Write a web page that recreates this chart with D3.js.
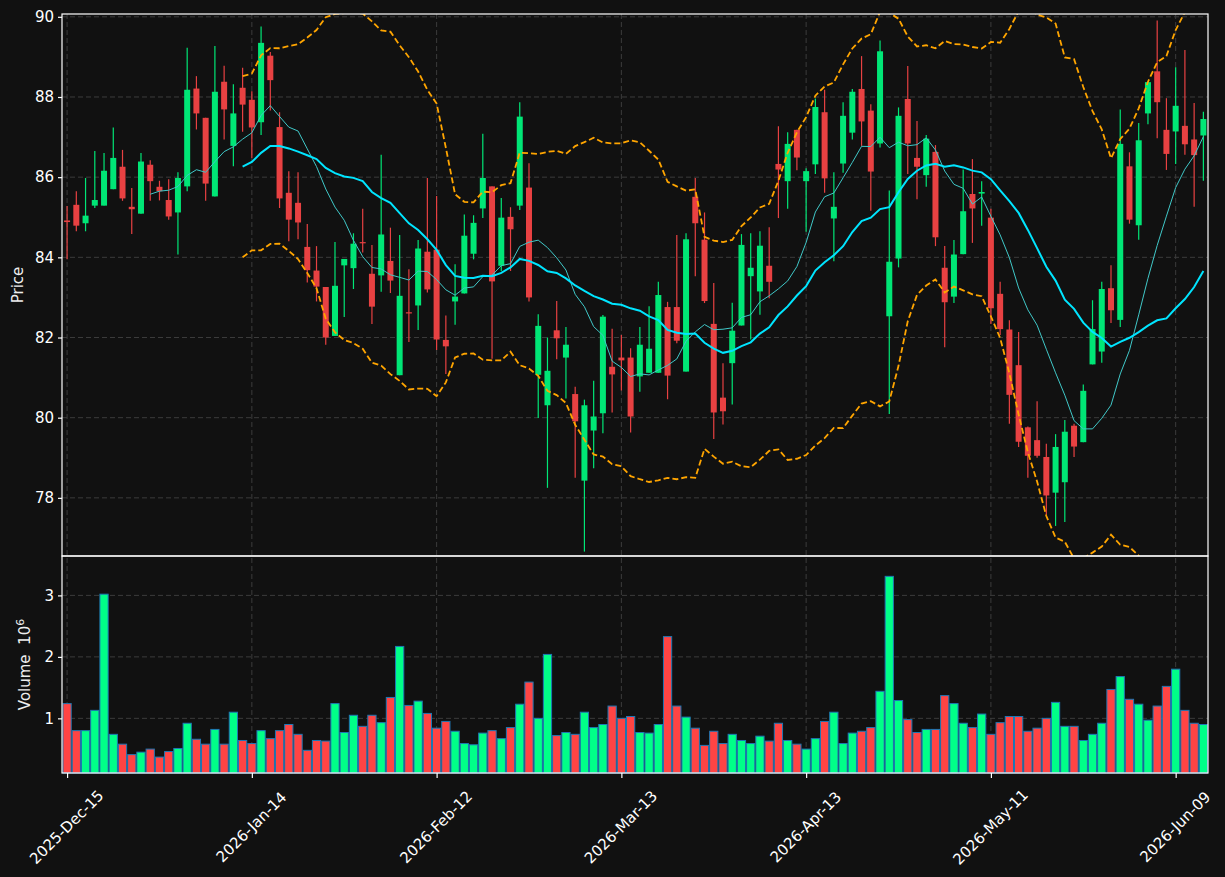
<!DOCTYPE html>
<html>
<head>
<meta charset="utf-8">
<script src="https://cdn.jsdelivr.net/npm/d3@7/dist/d3.min.js"></script>
<style>
body {
  margin: 0;
  background-color: #111111;
}
svg {
  display: block;
  font-family: "DejaVu Sans", sans-serif;
}
</style>
</head>
<body>
<svg id="chart"></svg>
<script>
// daily OHLC
var opens = [84.92,85.31,84.85,85.29,85.29,85.70,86.26,85.26,85.09,86.31,
  85.76,85.43,85.12,85.77,88.21,87.48,85.52,88.38,86.78,88.23,
  87.93,87.37,89.03,87.25,85.61,85.36,84.26,83.67,83.26,82.04,
  83.80,83.73,84.38,83.59,83.55,83.91,81.06,82.63,82.80,84.14,
  84.19,81.94,82.90,83.10,84.09,85.22,85.77,83.79,85.01,85.29,
  85.74,81.07,80.31,82.18,81.50,80.59,78.43,79.68,80.11,81.27,
  81.50,81.50,81.03,81.12,81.12,82.76,82.76,81.15,85.51,84.44,
  82.34,80.50,81.36,82.30,83.53,83.15,83.79,86.33,85.90,87.18,
  85.90,86.32,87.62,84.97,86.34,87.11,88.20,87.66,86.84,82.53,
  83.97,87.95,86.48,86.05,86.63,83.74,83.02,84.08,85.58,85.59,
  84.99,83.09,82.20,81.31,79.76,79.44,79.02,78.13,78.39,79.80,
  79.39,81.33,81.65,83.23,82.44,86.27,84.80,87.59,88.64,87.18,
  87.14,87.28,86.94,87.04];
var highs = [85.28,85.65,85.98,86.65,86.60,87.24,86.68,85.73,86.60,86.42,
  85.91,85.95,86.12,89.23,88.52,87.48,89.27,88.78,88.32,88.73,
  88.14,89.76,89.12,87.62,86.15,86.12,84.83,84.28,83.26,84.38,
  83.96,84.60,85.21,84.31,86.56,84.74,84.56,83.70,84.43,85.98,
  85.53,82.55,83.83,85.07,85.05,87.08,85.77,85.48,85.25,87.87,
  86.35,82.58,82.00,82.91,82.26,80.77,80.45,80.92,82.56,82.22,
  82.06,81.73,82.26,82.78,83.39,82.89,84.56,84.60,85.98,85.12,
  83.36,81.36,82.87,84.58,84.60,84.65,84.75,87.27,87.12,87.18,
  86.22,87.96,88.18,86.12,87.87,88.20,89.02,87.82,89.41,85.67,
  87.74,88.77,87.40,87.05,86.80,84.28,84.43,86.19,86.45,85.90,
  85.21,83.39,82.43,82.14,79.78,80.41,79.35,79.59,79.94,79.85,
  80.83,82.93,83.39,83.80,87.69,86.62,87.35,88.37,89.91,87.97,
  88.74,89.17,87.85,87.63];
var lows = [83.95,84.65,84.65,85.23,85.29,85.70,85.41,84.58,85.09,85.41,
  85.42,84.94,84.07,85.65,87.19,85.41,85.52,86.94,86.27,87.13,
  86.48,87.05,87.66,85.23,84.40,84.45,83.37,82.90,81.82,82.04,
  82.51,83.21,84.12,82.34,83.14,83.11,81.06,81.89,82.19,83.12,
  81.69,81.09,82.32,83.10,83.95,84.98,81.47,83.66,83.66,85.18,
  82.90,79.99,78.25,81.46,80.48,78.50,76.66,78.74,79.61,80.13,
  80.68,79.63,80.65,81.12,81.12,80.46,81.86,81.15,83.53,82.86,
  79.47,79.83,80.33,82.30,81.95,82.57,82.98,84.98,85.21,86.17,
  84.64,86.08,85.61,83.90,86.11,86.94,86.78,85.16,86.74,80.09,
  83.75,86.08,85.45,85.76,84.28,81.76,82.86,84.08,84.36,84.79,
  82.34,82.06,79.85,79.27,78.50,79.00,77.58,77.30,77.40,79.02,
  79.39,81.33,81.37,82.36,82.26,84.84,84.44,87.32,86.97,86.18,
  86.33,86.56,85.26,85.91];
var closes = [84.88,84.79,85.04,85.43,86.16,86.48,85.47,85.20,86.39,85.90,
  85.65,85.02,85.98,88.18,87.59,85.84,88.13,87.69,87.59,87.81,
  87.24,89.35,88.42,85.47,84.94,84.87,83.68,83.27,82.00,83.29,
  83.96,84.34,84.35,82.77,84.57,83.42,83.04,82.60,84.22,83.20,
  81.95,81.78,83.02,84.54,84.86,85.98,83.40,84.99,84.70,87.51,
  83.00,82.29,81.17,81.98,81.82,79.91,80.31,80.03,82.52,81.08,
  81.43,80.03,81.82,81.72,83.06,81.05,81.92,84.45,84.85,82.91,
  80.13,80.16,82.17,84.31,83.74,84.29,83.39,86.19,86.83,86.49,
  86.15,87.75,85.97,85.26,87.53,88.13,87.39,86.14,89.14,83.89,
  87.53,86.84,86.26,86.96,84.50,82.88,84.07,85.15,85.22,85.63,
  82.73,82.21,80.57,79.40,79.05,79.05,78.06,79.27,79.65,79.28,
  80.67,82.21,83.21,82.68,86.83,84.94,86.92,88.37,87.87,86.58,
  87.78,86.82,86.55,87.45];
// volume in millions
var volumes = [1.24,0.80,0.80,1.13,3.02,0.74,0.58,0.41,0.45,0.50,
  0.37,0.46,0.51,0.92,0.66,0.58,0.82,0.58,1.10,0.64,
  0.59,0.80,0.67,0.80,0.90,0.74,0.48,0.64,0.63,1.24,
  0.77,1.05,0.87,1.05,0.93,1.34,2.17,1.21,1.28,1.08,
  0.84,0.95,0.79,0.59,0.57,0.76,0.80,0.67,0.85,1.23,
  1.59,1.00,2.04,0.72,0.77,0.74,1.10,0.85,0.90,1.20,
  1.00,1.03,0.77,0.76,0.90,2.33,1.20,1.02,0.84,0.56,
  0.79,0.59,0.74,0.64,0.59,0.71,0.63,0.92,0.64,0.58,
  0.50,0.67,0.95,1.10,0.59,0.76,0.79,0.85,1.44,3.31,
  1.29,0.98,0.77,0.82,0.82,1.37,1.24,0.92,0.85,1.07,
  0.74,0.93,1.03,1.03,0.79,0.84,1.00,1.26,0.87,0.87,
  0.64,0.74,0.92,1.47,1.68,1.31,1.23,0.97,1.20,1.52,
  1.80,1.13,0.92,0.90];

var tickIdx = [0, 20, 40, 60, 80, 100, 120];
var tickLabels = ["2025-Dec-15", "2026-Jan-14", "2026-Feb-12", "2026-Mar-13",
                  "2026-Apr-13", "2026-May-11", "2026-Jun-09"];
var priceTicks = [78, 80, 82, 84, 86, 88, 90];
var volTicks = [1, 2, 3];
var priceRange = [76.55, 90.07];

const width = 1225;
const height = 877;
var left = 62, right = 1208, mainTop = 14, mainBot = 556, volBot = 773;
var upColor = "#00e676", downColor = "#e84142";
var upVol = "#00ff88", downVol = "#ff4444";
var gridColor = "#3c3c3c";

var svg = d3.select("#chart").attr("width", width).attr("height", height);
svg.append("rect").attr("width", width).attr("height", height).attr("fill", "#111111");

var n = closes.length;
var x = d3.scaleLinear().domain([-0.55, n - 0.5]).range([left, right]);
var y = d3.scaleLinear().domain(priceRange).range([mainBot, mainTop]);
var yv = d3.scaleLinear()
           .domain([0.3 * d3.min(volumes), 1.1 * d3.max(volumes)])
           .range([volBot, mainBot]);

// moving averages and bollinger bands from the closes
function rolling(arr, p, fn) {
  return arr.map((d, i) => i < p - 1 ? null : fn(arr.slice(i - p + 1, i + 1)));
}
var sma10 = rolling(closes, 10, d3.mean);
var sma20 = rolling(closes, 20, d3.mean);
var sd20 = rolling(closes, 20, (a) => {
  var m = d3.mean(a);
  return Math.sqrt(d3.mean(a, (v) => (v - m) * (v - m)));
});
var bbUp = sma20.map((m, i) => m == null ? null : m + 2 * sd20[i]);
var bbLo = sma20.map((m, i) => m == null ? null : m - 2 * sd20[i]);

var defs = svg.append("defs");
defs.append("clipPath").attr("id", "clipMain").append("rect")
    .attr("x", left).attr("y", mainTop).attr("width", right - left).attr("height", mainBot - mainTop);

// grid
var grid = svg.append("g").attr("stroke", gridColor).attr("stroke-width", 1)
              .attr("stroke-dasharray", "5,3");
grid.selectAll(".vg").data(tickIdx).enter().append("line")
    .attr("x1", (d) => x(d)).attr("x2", (d) => x(d))
    .attr("y1", mainTop).attr("y2", volBot);
grid.selectAll(".hg").data(priceTicks).enter().append("line")
    .attr("x1", left).attr("x2", right)
    .attr("y1", (d) => y(d)).attr("y2", (d) => y(d));
grid.selectAll(".hv").data(volTicks).enter().append("line")
    .attr("x1", left).attr("x2", right)
    .attr("y1", (d) => yv(d)).attr("y2", (d) => yv(d));

// volume bars
var idx = d3.range(n);
var step = x(1) - x(0);
svg.append("g").selectAll("rect").data(idx).enter().append("rect")
   .attr("x", (i) => x(i) - step / 2 + 0.5)
   .attr("width", step - 1)
   .attr("y", (i) => yv(volumes[i]))
   .attr("height", (i) => volBot - yv(volumes[i]))
   .attr("fill", (i) => closes[i] >= opens[i] ? upVol : downVol)
   .attr("stroke", "#1f77b4")
   .attr("stroke-width", 1);

// candles
var cg = svg.append("g").attr("clip-path", "url(#clipMain)");
cg.selectAll(".wick").data(idx).enter().append("line")
  .attr("x1", (i) => x(i)).attr("x2", (i) => x(i))
  .attr("y1", (i) => y(highs[i])).attr("y2", (i) => y(lows[i]))
  .attr("stroke", (i) => closes[i] >= opens[i] ? upColor : downColor)
  .attr("stroke-width", 1.2);
cg.selectAll(".body").data(idx).enter().append("rect")
  .attr("x", (i) => x(i) - 3)
  .attr("width", 6)
  .attr("y", (i) => y(Math.max(opens[i], closes[i])))
  .attr("height", (i) => Math.max(1, Math.abs(y(opens[i]) - y(closes[i]))))
  .attr("fill", (i) => closes[i] >= opens[i] ? upColor : downColor);

// overlay lines
function lineOf(arr) {
  return d3.line().defined((d) => d != null)
           .x((d, i) => x(i)).y((d) => y(d))(arr);
}
var lg = svg.append("g").attr("clip-path", "url(#clipMain)").attr("fill", "none");
lg.append("path").attr("d", lineOf(sma10)).attr("stroke", "#40c8c8").attr("stroke-width", 1);
lg.append("path").attr("d", lineOf(sma20)).attr("stroke", "#00e5ff").attr("stroke-width", 2);
lg.append("path").attr("d", lineOf(bbUp)).attr("stroke", "#ffa500").attr("stroke-width", 1.8)
  .attr("stroke-dasharray", "6,3");
lg.append("path").attr("d", lineOf(bbLo)).attr("stroke", "#ffa500").attr("stroke-width", 1.8)
  .attr("stroke-dasharray", "6,3");

// axes
function styleAxis(g) {
  g.select(".domain").remove();
  g.selectAll(".tick line").attr("stroke", "white").attr("stroke-width", 1.2);
  g.selectAll(".tick text").attr("fill", "white").style("font-size", "15px")
   .style("font-family", "DejaVu Sans, sans-serif");
}
svg.append("g").attr("transform", "translate(" + left + ",0)")
   .call(d3.axisLeft(y).tickValues(priceTicks).tickSize(4).tickPadding(4))
   .call(styleAxis);
svg.append("g").attr("transform", "translate(" + left + ",0)")
   .call(d3.axisLeft(yv).tickValues(volTicks).tickSize(4).tickPadding(4)
           .tickFormat(d3.format("d")))
   .call(styleAxis);
var xa = svg.append("g").attr("transform", "translate(0," + volBot + ")")
   .call(d3.axisBottom(x).tickValues(tickIdx).tickSize(5)
           .tickFormat((d, i) => tickLabels[i]))
   .call(styleAxis);
xa.selectAll(".tick text")
  .attr("y", 0).attr("dy", "0.35em")
  .attr("text-anchor", "middle")
  .attr("transform", "translate(-1,54) rotate(-45)");

// frames
svg.append("rect").attr("x", left).attr("y", mainTop)
   .attr("width", right - left).attr("height", mainBot - mainTop)
   .attr("fill", "none").attr("stroke", "white").attr("stroke-width", 1.2);
svg.append("rect").attr("x", left).attr("y", mainBot)
   .attr("width", right - left).attr("height", volBot - mainBot)
   .attr("fill", "none").attr("stroke", "white").attr("stroke-width", 1.2);

// axis titles
svg.append("text").attr("transform", "translate(23," + (mainTop + mainBot) / 2 + ") rotate(-90)")
   .attr("text-anchor", "middle").attr("fill", "#eeeeee").style("font-size", "15px")
   .text("Price");
var vt = svg.append("text").attr("transform", "translate(30," + (mainBot + volBot) / 2 + ") rotate(-90)")
   .attr("text-anchor", "middle").attr("fill", "#eeeeee").style("font-size", "15px");
vt.append("tspan").text("Volume\u00a0\u00a010");
vt.append("tspan").attr("dy", "-0.55em").style("font-size", "11px").text("6");
</script>
</body>
</html>
